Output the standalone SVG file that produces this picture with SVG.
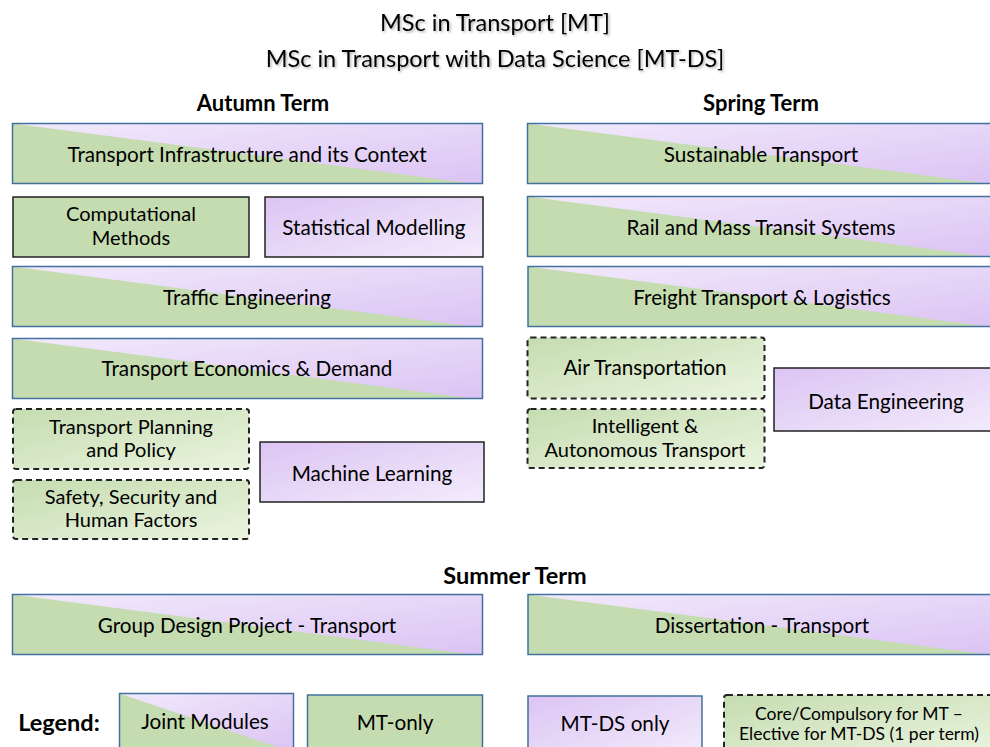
<svg xmlns="http://www.w3.org/2000/svg" width="990" height="747" viewBox="0 0 990 747">
<defs>
<linearGradient id="pJ" x1="0" y1="0" x2="1" y2="1"><stop offset="0" stop-color="#f2eafc"/><stop offset="1" stop-color="#dbc3f3"/></linearGradient>
<linearGradient id="pD" x1="0" y1="0" x2="1" y2="1"><stop offset="0" stop-color="#dcc4f3"/><stop offset="1" stop-color="#f3ecfc"/></linearGradient>
<linearGradient id="gE" x1="0" y1="0" x2="1" y2="1"><stop offset="0" stop-color="#c5dcb0"/><stop offset="1" stop-color="#eaf4df"/></linearGradient>
<filter id="sh" x="-5%" y="-20%" width="110%" height="150%"><feDropShadow dx="1.5" dy="1.5" stdDeviation="1" flood-color="#000" flood-opacity="0.3"/></filter>
</defs>
<style>
text{font-family:Lato,"Open Sans","Noto Sans",sans-serif;fill:#000;text-anchor:middle;dominant-baseline:central}
.t{font-size:20.7px}
.t2{font-size:20px}
.h{font-size:22px;font-weight:bold}
.hs{font-size:23.5px;font-weight:bold}
.ti{font-size:23.5px}
.s{font-size:17.5px}
.jp{fill:url(#pJ)}
.g{fill:#c5dcb0}
.bb{fill:none;stroke:#41719c;stroke-width:1.5}
.bk{stroke:#222;stroke-width:1.5}
.dp{fill:url(#pD)}
.de{fill:url(#gE);stroke:#222;stroke-width:2;stroke-dasharray:6 4}
</style>
<rect width="990" height="747" fill="#fff"/>

<g id="title" filter="url(#sh)">
<text class="ti" x="495" y="22">MSc in Transport [MT]</text>
<text class="ti" x="495" y="58">MSc in Transport with Data Science [MT-DS]</text>
</g>
<text class="h" x="263" y="102">Autumn Term</text>
<text class="h" x="761" y="102">Spring Term</text>
<text class="hs" x="515" y="575">Summer Term</text>

<g id="n-infra">
<rect class="jp" x="12.5" y="123.5" width="470" height="60"/>
<polygon class="g" points="12.5,123.5 12.5,183.5 472,183.5"/>
<rect class="bb" x="12.5" y="123.5" width="470" height="60"/>
<text class="t" x="247" y="154">Transport Infrastructure and its Context</text>
</g>
<g id="n-comp">
<rect class="g bk" x="13" y="197" width="236" height="60"/>
<text class="t2" x="131" y="213">Computational</text>
<text class="t2" x="131" y="237">Methods</text>
</g>
<g id="n-stat">
<rect class="dp bk" x="265" y="197" width="218" height="60"/>
<text class="t" x="374" y="227">Statistical Modelling</text>
</g>
<g id="n-traffic">
<rect class="jp" x="12.5" y="266.5" width="470" height="60"/>
<polygon class="g" points="12.5,266.5 12.5,326.5 472,326.5"/>
<rect class="bb" x="12.5" y="266.5" width="470" height="60"/>
<text class="t" x="247" y="297">Traffic Engineering</text>
</g>
<g id="n-econ">
<rect class="jp" x="12.5" y="338.5" width="470" height="60"/>
<polygon class="g" points="12.5,338.5 12.5,398.5 472,398.5"/>
<rect class="bb" x="12.5" y="338.5" width="470" height="60"/>
<text class="t" x="247" y="368">Transport Economics &amp; Demand</text>
</g>
<g id="n-plan">
<rect class="de" x="13" y="409" width="236" height="60" rx="3"/>
<text class="t2" x="131" y="426">Transport Planning</text>
<text class="t2" x="131" y="449">and Policy</text>
</g>
<g id="n-safety">
<rect class="de" x="13" y="480" width="236" height="59" rx="3"/>
<text class="t2" x="131" y="496">Safety, Security and</text>
<text class="t2" x="131" y="519">Human Factors</text>
</g>
<g id="n-ml">
<rect class="dp bk" x="260" y="442" width="224" height="60"/>
<text class="t" x="372" y="473">Machine Learning</text>
</g>

<g id="n-sust">
<rect class="jp" x="527.5" y="123.5" width="470" height="60"/>
<polygon class="g" points="527.5,123.5 527.5,183.5 987,183.5"/>
<rect class="bb" x="527.5" y="123.5" width="470" height="60"/>
<text class="t" x="761" y="154">Sustainable Transport</text>
</g>
<g id="n-rail">
<rect class="jp" x="527.5" y="196.5" width="470" height="60"/>
<polygon class="g" points="527.5,196.5 527.5,256.5 987,256.5"/>
<rect class="bb" x="527.5" y="196.5" width="470" height="60"/>
<text class="t" x="761" y="227">Rail and Mass Transit Systems</text>
</g>
<g id="n-freight">
<rect class="jp" x="528" y="266.5" width="470" height="60"/>
<polygon class="g" points="528,266.5 528,326.5 987,326.5"/>
<rect class="bb" x="528" y="266.5" width="470" height="60"/>
<text class="t" x="762" y="297">Freight Transport &amp; Logistics</text>
</g>
<g id="n-air">
<rect class="de" x="527.5" y="337.5" width="237" height="61" rx="3"/>
<text class="t" x="645" y="367">Air Transportation</text>
</g>
<g id="n-its">
<rect class="de" x="527.5" y="409" width="237" height="59" rx="3"/>
<text class="t2" x="645" y="425">Intelligent &amp;</text>
<text class="t2" x="645" y="449">Autonomous Transport</text>
</g>
<g id="n-data">
<rect class="dp bk" x="774" y="368" width="230" height="63"/>
<text class="t" x="886" y="401">Data Engineering</text>
</g>

<g id="n-gdp">
<rect class="jp" x="12.5" y="594.5" width="470" height="60"/>
<polygon class="g" points="12.5,594.5 12.5,654.5 472,654.5"/>
<rect class="bb" x="12.5" y="594.5" width="470" height="60"/>
<text class="t" x="247" y="625">Group Design Project - Transport</text>
</g>
<g id="n-diss">
<rect class="jp" x="528" y="594.5" width="470" height="60"/>
<polygon class="g" points="528,594.5 528,654.5 987,654.5"/>
<rect class="bb" x="528" y="594.5" width="470" height="60"/>
<text class="t" x="762" y="625">Dissertation - Transport</text>
</g>

<g id="legend">
<text class="hs" x="59" y="722">Legend:</text>
<g id="lg-joint">
<rect class="jp" x="119.5" y="693.5" width="174" height="58"/>
<polygon class="g" points="119.5,693.5 119.5,751.5 291,751.5"/>
<rect class="bb" x="119.5" y="693.5" width="174" height="58"/>
<text class="t" x="205" y="721">Joint Modules</text>
</g>
<g id="lg-mt">
<rect class="g bb" style="fill:#c5dcb0" x="307.5" y="695" width="175" height="60"/>
<text class="t" x="395" y="722">MT-only</text>
</g>
<g id="lg-mtds">
<rect class="dp" x="528" y="696" width="174" height="60" style="stroke:#41719c;stroke-width:1.5"/>
<text class="t" x="615" y="723">MT-DS only</text>
</g>
<g id="lg-elective">
<rect class="de" x="724" y="695" width="275" height="60" rx="3"/>
<text class="s" x="859" y="713">Core/Compulsory for MT –</text>
<text class="s" x="859" y="733">Elective for MT-DS (1 per term)</text>
</g>
</g>
</svg>
